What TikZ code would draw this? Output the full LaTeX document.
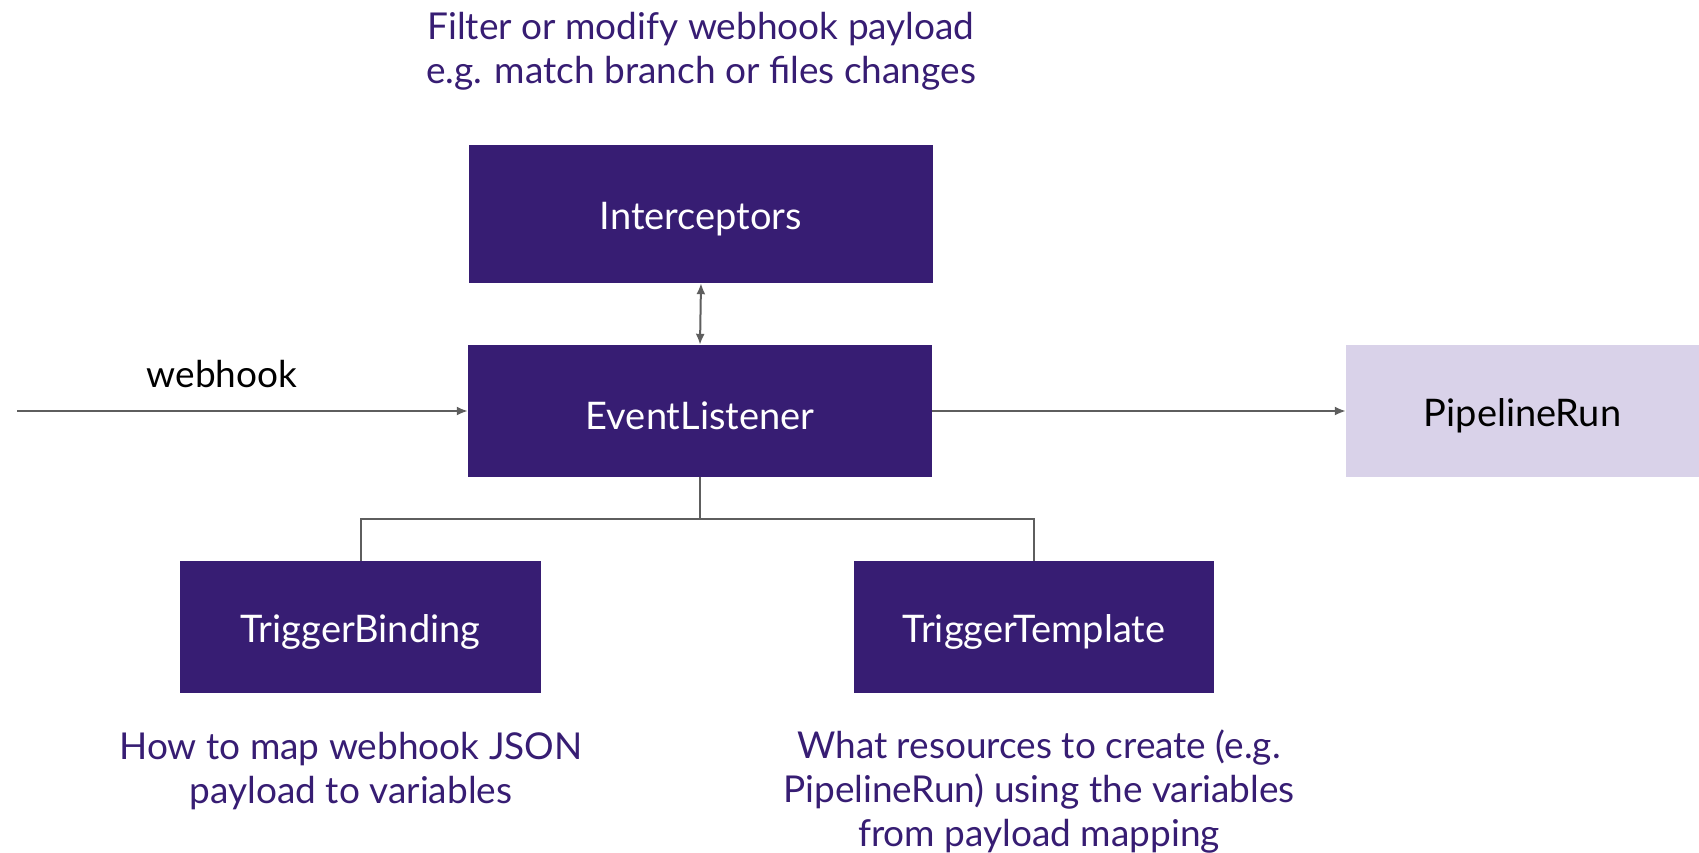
\documentclass[tikz,border=0pt]{standalone}
\usepackage{fontspec}
\setmainfont{Lato}
\usetikzlibrary{arrows.meta}
\definecolor{deep}{HTML}{371D73}
\definecolor{pale}{HTML}{D9D2E9}
\definecolor{wire}{HTML}{5E5E5E}
\tikzset{
  block/.style={fill=deep, text=white, inner sep=0pt, font=\fontsize{38}{44}\selectfont},
  lightblock/.style={fill=pale, text=black, inner sep=0pt, font=\fontsize{38}{44}\selectfont},
  note/.style={text=deep, align=center, inner sep=0pt, font=\fontsize{37}{44}\selectfont},
  link/.style={draw=wire, line width=2pt},
  tip/.style={-{Latex[length=11pt,width=9pt]}},
}
% box captions sit slightly below the geometric centre
\newcommand{\lbl}[1]{\raisebox{-5pt}[\height][\depth]{#1}}
\begin{document}
\begin{tikzpicture}[x=1pt,y=-1pt]
  \useasboundingbox (0,0) rectangle (1699,853);

  % component boxes
  \node[block, minimum width=464pt, minimum height=138pt] (int) at (701,214) {\lbl{Interceptors}};
  \node[block, minimum width=464pt, minimum height=132pt] (el) at (700,411) {\lbl{EventListener}};
  \node[lightblock, minimum width=353pt, minimum height=132pt] (pr) at (1522.5,411) {\lbl{PipelineRun}};
  \node[block, minimum width=361pt, minimum height=132pt] (tb) at (360.5,627) {\lbl{TriggerBinding}};
  \node[block, minimum width=360pt, minimum height=132pt] (tt) at (1034,627) {\lbl{TriggerTemplate}};

  % explanatory notes
  \node[note] (intnote) at (701,51) {Filter or modify webhook payload\\e.g. match branch or files changes};
  \node[note] (tbnote) at (351,771) {How to map webhook JSON\\payload to variables};
  \node[note] (ttnote) at (1039,792) {What resources to create (e.g.\\PipelineRun) using the variables\\from payload mapping};

  % incoming webhook
  \coordinate (src) at (17,411);
  \node[text=black, inner sep=0pt, font=\fontsize{37}{44}\selectfont] (wh) at (222,374) {webhook};
  \draw[link, tip] (src) -- (el.west);

  % listener to pipeline run
  \draw[link, tip] (el.east) -- (pr.west);

  % listener <-> interceptors
  \draw[link, {Latex[length=11pt,width=9pt]}-{Latex[length=11pt,width=9pt]}] (int.south) -- (el.north);

  % listener fans out to binding and template
  \draw[link] (el.south) -- ++(0,42) coordinate (fork) -| (tb.north);
  \draw[link] (fork) -| (tt.north);
\end{tikzpicture}
\end{document}
